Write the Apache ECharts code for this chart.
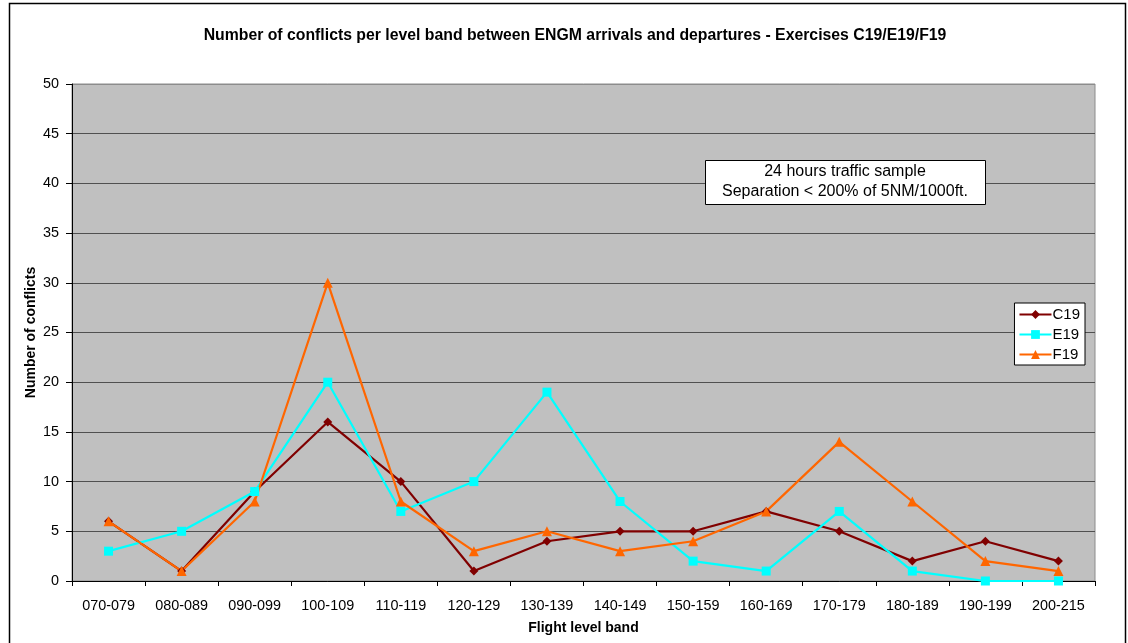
<!DOCTYPE html>
<html>
<head>
<meta charset="utf-8">
<script src="https://cdn.jsdelivr.net/npm/echarts@6/dist/echarts.min.js"></script>
<style>
  html, body { margin: 0; padding: 0; background: #fff; }
  #chart { width: 1128px; height: 643px; }
</style>
</head>
<body>
<div id="chart"></div>
<script>
// Flight level bands on the category axis
const bands = ['070-079', '080-089', '090-099', '100-109', '110-119', '120-129', '130-139',
  '140-149', '150-159', '160-169', '170-179', '180-189', '190-199', '200-215'];

// Conflicts per band for each exercise
const c19 = [6, 1, 9, 16, 10, 1, 4, 5, 5, 7, 5, 2, 4, 2];
const e19 = [3, 5, 9, 20, 7, 10, 19, 8, 2, 1, 7, 1, 0, 0];
const f19 = [6, 1, 8, 30, 8, 3, 5, 3, 4, 7, 14, 8, 2, 1];

const FONT = '"Liberation Sans", Arial, sans-serif';

// Grid line colours: the top edge at 50 is lighter than the inner lines
const gridColors = [];
for (let i = 0; i <= 10; i++) gridColors.push(i === 10 ? '#8c8c8c' : '#505050');

const chart = echarts.init(document.getElementById('chart'), null, { renderer: 'canvas' });

function line(name, data, color, symbol, size) {
  return {
    name: name,
    type: 'line',
    data: data,
    symbol: symbol,
    symbolSize: size,
    showAllSymbol: true,
    lineStyle: { color: color, width: 2.2 },
    itemStyle: { color: color, borderWidth: 0 },
    emphasis: { disabled: true },
    animation: false,
    z: 3
  };
}

chart.setOption({
  animation: false,
  backgroundColor: '#ffffff',
  textStyle: { fontFamily: FONT },
  title: {
    text: 'Number of conflicts per level band between ENGM arrivals and departures - Exercises C19/E19/F19',
    left: 570,
    textAlign: 'center',
    top: 23,
    textStyle: { fontFamily: FONT, fontSize: 15.8, fontWeight: 'bold', color: '#000' }
  },
  grid: { left: 72, right: 33, top: 84, bottom: 62, show: true, backgroundColor: '#c0c0c0', borderColor: '#8c8c8c', borderWidth: 1 },
  legend: {
    right: 43,
    top: 303,
    orient: 'vertical',
    backgroundColor: '#ffffff',
    borderColor: '#000',
    borderWidth: 1,
    borderRadius: 0,
    padding: [4, 5, 3, 4],
    itemGap: 5,
    itemWidth: 32,
    itemHeight: 11,
    textStyle: { fontFamily: FONT, fontSize: 15, color: '#000', padding: [0, 0, 0, -4] },
    data: ['C19', 'E19', 'F19']
  },
  xAxis: {
    type: 'category',
    data: bands,
    boundaryGap: true,
    name: 'Flight level band',
    nameLocation: 'middle',
    nameGap: 40,
    nameMoveOverlap: false,
    nameTextStyle: { fontFamily: FONT, fontSize: 14, fontWeight: 'bold', color: '#000' },
    axisLine: { lineStyle: { color: '#000', width: 1 } },
    axisTick: { show: true, length: 5, lineStyle: { color: '#000' } },
    axisLabel: { fontFamily: FONT, fontSize: 14.4, color: '#000', margin: 18, interval: 0 },
    splitLine: { show: false }
  },
  yAxis: {
    type: 'value',
    min: 0,
    max: 50,
    interval: 5,
    name: 'Number of conflicts',
    nameLocation: 'middle',
    nameGap: 34,
    nameMoveOverlap: false,
    nameTextStyle: { fontFamily: FONT, fontSize: 14, fontWeight: 'bold', color: '#000' },
    axisLine: { show: true, lineStyle: { color: '#000', width: 1 } },
    axisTick: { show: true, length: 6, lineStyle: { color: '#000' } },
    axisLabel: { fontFamily: FONT, fontSize: 14.4, color: '#000', margin: 13 },
    splitLine: { show: true, lineStyle: { color: gridColors, width: 1.2 } }
  },
  series: [
    line('C19', c19, '#800000', 'diamond', 9),
    line('E19', e19, '#00ffff', 'rect', 9),
    line('F19', f19, '#ff6600', 'triangle', 10)
  ],
  graphic: [
    {
      type: 'rect',
      left: 7, top: 1,
      shape: { width: 1116, height: 660 },
      style: { fill: 'none', stroke: '#000', lineWidth: 1.5 },
      silent: true, z: 100
    },
    {
      type: 'rect',
      left: 705, top: 160,
      z: 60,
      shape: { x: 0, y: 0, width: 280, height: 44 },
      style: { fill: '#ffffff', stroke: '#000', lineWidth: 1 }
    },
    {
      type: 'text',
      x: 845, y: 172,
      z: 61,
      style: { text: '24 hours traffic sample', fontFamily: FONT, fontSize: 16, fill: '#000', align: 'center', verticalAlign: 'middle' }
    },
    {
      type: 'text',
      x: 845, y: 192,
      z: 61,
      style: { text: 'Separation < 200% of 5NM/1000ft.', fontFamily: FONT, fontSize: 16, fill: '#000', align: 'center', verticalAlign: 'middle' }
    }
  ]
});
</script>
</body>
</html>
